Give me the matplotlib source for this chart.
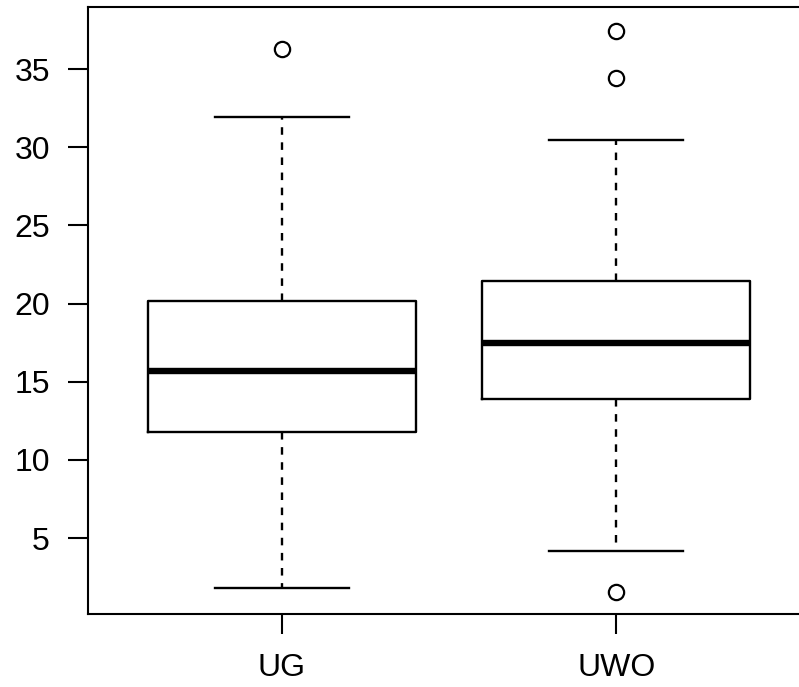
import matplotlib.pyplot as plt

plt.rcParams['font.family'] = ['Liberation Sans', 'DejaVu Sans']

# five-number summaries
groups = ["UG", "UWO"]
whisker_low = [1.80, 4.19]
q1 = [11.80, 13.87]
median = [15.70, 17.50]
q3 = [20.16, 21.46]
whisker_high = [31.95, 30.46]
outliers = [[36.27], [37.46, 34.41, 1.53]]

stats = []
for i, g in enumerate(groups):
    stats.append({
        "label": g,
        "whislo": whisker_low[i],
        "q1": q1[i],
        "med": median[i],
        "q3": q3[i],
        "whishi": whisker_high[i],
        "fliers": outliers[i],
    })

fig = plt.figure(figsize=(7.99, 6.87), dpi=100)
ax = fig.add_axes([88 / 799, 73 / 687, 722 / 799, 607 / 687])

lw = 1.7
ax.bxp(
    stats,
    positions=[1, 2],
    widths=0.8,
    boxprops=dict(color="black", linewidth=lw),
    medianprops=dict(color="black", linewidth=4.6, solid_capstyle="butt"),
    whiskerprops=dict(color="black", linewidth=lw, linestyle=(0, (3.2, 3.2))),
    capprops=dict(color="black", linewidth=lw),
    capwidths=0.4,
    flierprops=dict(marker="o", markersize=11, markerfacecolor="none",
                    markeredgecolor="black", markeredgewidth=1.6),
)

ax.set_xlim(0.42, 2.58)
ax.set_ylim(0.14, 38.97)
ax.set_yticks([5, 10, 15, 20, 25, 30, 35])
ax.set_xticks([1, 2])
ax.set_xticklabels(groups)

for s in ax.spines.values():
    s.set_linewidth(1.5)

ax.tick_params(axis="both", direction="out", length=14.4, width=1.5,
               labelsize=23, color="black")
ax.tick_params(axis="y", pad=13)
ax.tick_params(axis="x", pad=14)

fig.savefig("out.png", dpi=100)
